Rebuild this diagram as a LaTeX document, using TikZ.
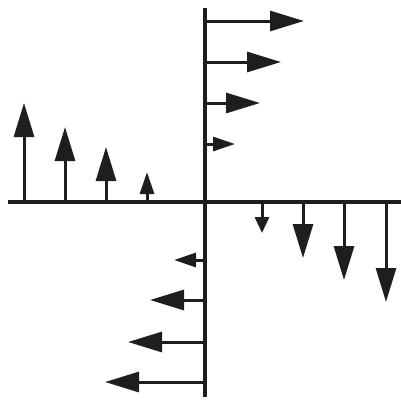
\documentclass[tikz,border=0pt]{standalone}
\usetikzlibrary{arrows.meta}
\definecolor{ink}{HTML}{1E1E1E}
\tikzset{
  axisline/.style={line width=3.2pt, draw=ink},
  bigvec/.style={line width=3pt, draw=ink, -{Triangle[length=34pt,width=20pt]}},
  smallvec/.style={line width=3pt, draw=ink, -{Triangle[length=22pt,width=14pt]}},
  tinyvec/.style={line width=3pt, draw=ink, -{Triangle[length=16pt,width=14pt]}},
}
\begin{document}
\begin{tikzpicture}[x=1pt,y=-1pt]
\useasboundingbox (0,0) rectangle (401,399);
% axes
\coordinate (vt) at (205,8);
\coordinate (vb) at (205,397);
\coordinate (hl) at (8,202);
\coordinate (hr) at (401,202);
\draw[axisline] (vt) -- (vb);
\draw[axisline] (hl) -- (hr);
% upper: right-pointing
\coordinate (u1s) at (205,21);  \coordinate (u1e) at (304,21);
\coordinate (u2s) at (205,62);  \coordinate (u2e) at (281,62);
\coordinate (u3s) at (205,103); \coordinate (u3e) at (260,103);
\coordinate (u4s) at (205,144); \coordinate (u4e) at (235,144);
\draw[bigvec] (u1s) -- (u1e);
\draw[bigvec] (u2s) -- (u2e);
\draw[bigvec] (u3s) -- (u3e);
\draw[smallvec] (u4s) -- (u4e);
% left: up-pointing
\coordinate (l1s) at (24,202);  \coordinate (l1e) at (24,103);
\coordinate (l2s) at (65,202);  \coordinate (l2e) at (65,127);
\coordinate (l3s) at (106,202); \coordinate (l3e) at (106,147);
\coordinate (l4s) at (147,202); \coordinate (l4e) at (147,172);
\draw[bigvec] (l1s) -- (l1e);
\draw[bigvec] (l2s) -- (l2e);
\draw[bigvec] (l3s) -- (l3e);
\draw[smallvec] (l4s) -- (l4e);
% right: down-pointing
\coordinate (r1s) at (262,202); \coordinate (r1e) at (262,233);
\coordinate (r2s) at (303,202); \coordinate (r2e) at (303,258);
\coordinate (r3s) at (344,202); \coordinate (r3e) at (344,280);
\coordinate (r4s) at (386,202); \coordinate (r4e) at (386,302);
\draw[tinyvec] (r1s) -- (r1e);
\draw[bigvec] (r2s) -- (r2e);
\draw[bigvec] (r3s) -- (r3e);
\draw[bigvec] (r4s) -- (r4e);
% lower: left-pointing
\coordinate (b1s) at (205,260); \coordinate (b1e) at (174,260);
\coordinate (b2s) at (205,300); \coordinate (b2e) at (150,300);
\coordinate (b3s) at (205,342); \coordinate (b3e) at (128,342);
\coordinate (b4s) at (205,382); \coordinate (b4e) at (105,382);
\draw[smallvec] (b1s) -- (b1e);
\draw[bigvec] (b2s) -- (b2e);
\draw[bigvec] (b3s) -- (b3e);
\draw[bigvec] (b4s) -- (b4e);
\end{tikzpicture}
\end{document}
